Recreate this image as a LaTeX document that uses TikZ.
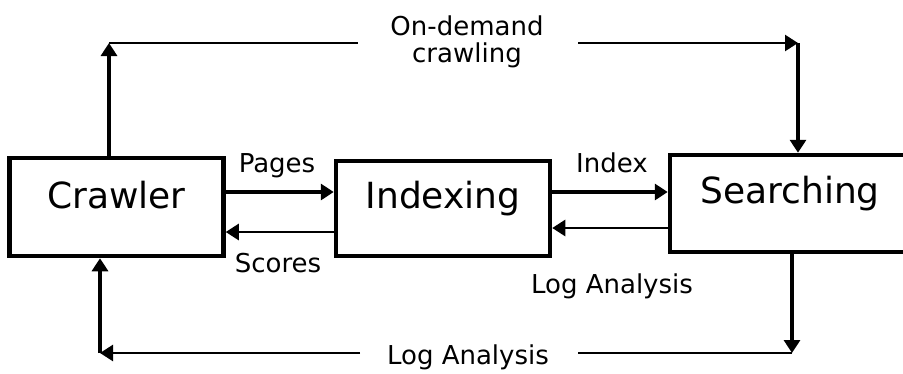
\documentclass[tikz,border=0pt]{standalone}
\usepackage{fontspec}
\setmainfont{DejaVu Sans}
\usetikzlibrary{arrows.meta}
\begin{document}
\begin{tikzpicture}[x=1pt,y=-1pt,
  box/.style={draw,line width=4.5pt,inner sep=0pt},
  btxt/.style={inner sep=0pt,anchor=base,font=\fontsize{36}{40}\selectfont},
  lbl/.style={inner sep=0pt,anchor=base,font=\fontsize{26}{32}\selectfont},
  conn/.style={line width=2.5pt},
  arr/.style={line width=3.2pt,-{Triangle[length=13pt,width=16pt]}},
  arrt/.style={line width=2.6pt,-{Triangle[length=13pt,width=16pt]}}]
\useasboundingbox (0,0) rectangle (903,373);
\clip (0,0) rectangle (903,373);
\node[box,minimum width=214pt,minimum height=98pt] (cr) at (116.5,207) {};
\node[box,minimum width=214pt,minimum height=95pt] (ix) at (443,208.5) {};
\node[box,minimum width=242pt,minimum height=97pt] (ss) at (791,203.5) {};
\node[btxt] (crt) at (116.5,208) {Crawler};
\node[btxt] (ixt) at (443,208) {Indexing};
\node[btxt] (sst) at (790,203) {Searching};
% labels
\node[lbl] (pg) at (277,172) {Pages};
\node[lbl] (sc) at (278,272) {Scores};
\node[lbl] (in) at (612,172) {Index};
\node[lbl] (la) at (612,293) {Log Analysis};
\node[lbl] (od1) at (467,35) {On-demand};
\node[lbl] (od2) at (467,62) {crawling};
\node[lbl] (lb) at (468,364) {Log Analysis};
% corner coordinates
\coordinate (tl) at (109,43);
\coordinate (tr) at (798,43);
\coordinate (bl) at (100,353);
\coordinate (br) at (792,353);
\coordinate (tla) at (358,43);
\coordinate (tra) at (578,43);
\coordinate (bla) at (360,353);
\coordinate (bra) at (578,353);
% middle arrows
\draw[arr] (cr.east |- 0,192) -- (ix.west |- 0,192);
\draw[arrt] (ix.west |- 0,232) -- (cr.east |- 0,232);
\draw[arr] (ix.east |- 0,192) -- (ss.west |- 0,192);
\draw[arrt] (ss.west |- 0,228) -- (ix.east |- 0,228);
% top loop
\draw[arr] (cr.north -| tl) -- (tl);
\draw[conn] (tl) -- (tla);
\draw[arrt] (tra) -- (tr);
\draw[arr] (tr) -- (ss.north -| tr);
% bottom loop
\draw[arr] (ss.south -| br) -- (br);
\draw[conn] (br) -- (bra);
\draw[arrt] (bla) -- (bl);
\draw[arr] (bl) -- (cr.south -| bl);
\end{tikzpicture}
\end{document}
